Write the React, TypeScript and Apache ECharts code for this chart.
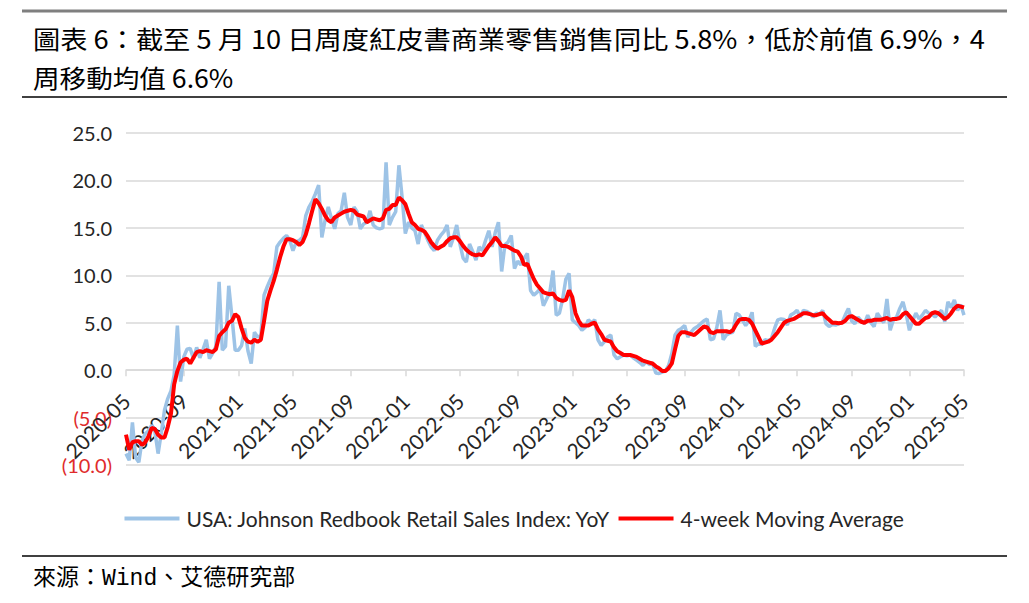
import React, { useEffect, useRef } from "react";
import * as echarts from "echarts";

// Weekly observations (Saturdays), first week ending 2020-05-09, last 2025-05-10
const startDate = "2020-05-09";
const weekCount = 262;

const redbookYoY = [
  -8.8, -9.5, -5.5, -9.2, -9.7, -7.4, -6.7, -6.4, -5.8, -6.5,
  -8.8, -6.6, -4.2, -3.0, -2.2, -0.5, 4.7, -1.2, 1.4, 2.2,
  2.3, 1.2, 2.4, 1.3, 2.2, 3.2, 1.2, 1.8, 2.5, 9.3,
  2.1, 2.5, 8.9, 5.6, 2.1, 2.1, 2.6, 4.4, 2.0, 0.7,
  4.0, 3.5, 3.6, 7.9, 8.8, 9.6, 10.2, 13.0, 13.5, 13.9,
  14.2, 13.7, 12.6, 13.5, 13.7, 14.0, 16.3, 17.2, 17.8, 18.6,
  19.5, 14.0, 15.8, 17.2, 16.0, 14.9, 16.5, 16.8, 18.7, 16.1,
  15.3, 17.2, 16.7, 14.9, 15.4, 15.6, 16.8, 15.3, 15.0, 14.9,
  15.0, 21.9, 15.3, 16.1, 16.7, 21.6, 18.2, 14.4, 15.6, 15.0,
  14.7, 13.3, 15.3, 14.5, 13.7, 13.0, 12.6, 13.7, 14.2, 14.6,
  15.3, 13.0, 14.0, 15.3, 13.3, 11.8, 11.4, 13.3, 12.5, 11.6,
  13.0, 12.6, 13.7, 14.7, 13.0, 14.5, 15.6, 10.4, 13.2, 13.5,
  14.2, 10.7, 11.5, 11.1, 11.8, 12.3, 8.4, 7.9, 8.2, 8.6,
  6.8, 7.5, 8.2, 10.5, 5.8, 6.0, 7.5, 9.6, 10.2, 5.3,
  5.0, 4.7, 4.2, 4.5, 5.3, 5.0, 5.3, 3.2, 2.6, 3.0,
  3.5, 3.7, 1.6, 1.2, 1.4, 1.6, 1.5, 1.6, 1.3, 1.05,
  0.8, 0.5, 0.9, 0.6, 0.7, -0.3, -0.35, -0.2, -0.1, 0.5,
  1.75, 3.7, 4.2, 4.4, 4.7, 3.5, 4.0, 4.4, 4.6, 4.9,
  5.2, 5.4, 3.2, 3.3, 4.5, 6.3, 3.2, 3.7, 3.9, 4.0,
  6.0, 5.8, 5.3, 4.7, 5.2, 6.1, 2.5, 2.8, 2.7, 3.2,
  3.1, 3.3, 4.4, 5.3, 5.4, 5.35, 4.75, 5.8, 6.0, 6.3,
  5.6, 6.3, 6.2, 6.0, 5.6, 6.0, 5.9, 6.3, 4.9, 4.6,
  4.8, 4.75, 4.9, 5.0, 5.8, 6.5, 5.2, 4.9, 5.6, 5.2,
  4.9, 5.8, 5.0, 4.6, 6.0, 5.5, 5.0, 7.5, 4.2, 5.3,
  5.6, 6.5, 7.2, 5.9, 4.2, 5.2, 6.0, 5.4, 5.8, 6.3,
  6.0, 5.9, 5.6, 6.0, 6.3, 5.1, 7.2, 6.6, 7.4, 6.3,
  6.9, 5.8,
];

const movingAvg4w = [
  -6.8, -8.4, -7.6, -7.5, -7.5, -7.9, -7.6, -7.0, -6.1, -6.2,
  -6.8, -7.1, -7.1, -6.0, -4.6, -1.5, -0.1, 0.8, 1.1, 1.2,
  0.7, 1.3, 1.9, 2.0, 1.9, 2.1, 2.0, 1.9, 2.2, 3.6,
  4.0, 4.3, 5.0, 5.2, 5.9, 5.6, 4.4, 3.4, 3.0, 2.9,
  3.2, 3.0, 3.2, 5.2, 7.3, 8.4, 9.4, 10.6, 11.9, 13.0,
  13.8, 13.8, 13.7, 13.5, 13.2, 13.5, 14.3, 15.5, 16.8, 18.0,
  17.6, 17.0, 16.3, 15.8, 15.6, 16.1, 16.3, 16.5, 16.7, 16.8,
  16.9, 16.8, 16.4, 16.3, 16.2, 15.6, 15.8, 16.0, 15.9, 15.8,
  16.0, 16.9, 17.0, 17.4, 17.4, 18.2, 17.9, 17.5, 16.5, 15.6,
  15.3, 14.9, 14.8, 14.6, 14.1, 13.5, 13.1, 12.8, 13.0, 13.2,
  13.6, 13.9, 14.0, 14.0, 13.6, 13.1, 12.7, 12.4, 12.2, 12.1,
  12.2, 12.1, 12.6, 13.1, 13.5, 14.0, 13.6, 13.1, 13.1, 13.0,
  12.8, 12.6, 12.5, 12.0, 11.1, 11.2, 10.4, 9.6, 9.0, 8.6,
  8.2, 8.1, 8.0, 8.1, 7.6, 7.4, 7.3, 7.4, 8.4, 7.7,
  6.0, 5.2, 4.7, 4.7, 4.7, 4.9, 5.0, 4.3, 3.8, 3.2,
  3.1, 3.0, 2.4, 2.0, 1.8, 1.6, 1.6, 1.6, 1.5, 1.4,
  1.2, 1.0, 0.9, 0.8, 0.7, 0.4, 0.2, -0.1, -0.1, 0.2,
  0.7, 2.2, 3.6, 4.0, 4.0, 3.9, 3.8, 3.7, 4.0, 4.3,
  4.6, 4.5, 4.0, 3.9, 4.1, 4.1, 4.1, 4.1, 4.0, 4.2,
  4.8, 5.3, 5.4, 5.4, 5.3, 4.9, 4.2, 3.5, 2.8, 2.9,
  3.0, 3.2, 3.6, 4.0, 4.5, 5.0, 5.2, 5.3, 5.4, 5.6,
  5.8, 6.0, 6.0, 5.9, 5.8, 5.8, 5.9, 6.0, 5.6, 5.3,
  5.0, 5.0, 4.95, 5.0, 5.2, 5.6, 5.7, 5.5, 5.3, 5.1,
  5.0, 5.2, 5.2, 5.3, 5.3, 5.3, 5.4, 5.5, 5.3, 5.4,
  5.4, 5.5, 5.9, 6.1, 5.7, 5.3, 4.9, 4.9, 5.2, 5.5,
  5.6, 6.0, 6.1, 6.0, 5.7, 5.4, 5.6, 6.0, 6.5, 6.8,
  6.7, 6.6,
];

const tickLabels = [
  "2020-05", "2020-09", "2021-01", "2021-05", "2021-09", "2022-01", "2022-05", "2022-09",
  "2023-01", "2023-05", "2023-09", "2024-01", "2024-05", "2024-09", "2025-01", "2025-05",
];

const yMin = -10;
const yMax = 25;
const yStep = 5;

const seriesNames = ["USA: Johnson Redbook Retail Sales Index: YoY", "4-week Moving Average"];
const titleLine1 = "圖表 6：截至 5 月 10 日周度紅皮書商業零售銷售同比 5.8%，低於前值 6.9%，4";
const titleLine2 = "周移動均值 6.6%";
const sourceText = "來源：Wind、艾德研究部";

const DAY = 86400000;

function buildDates(): string[] {
  const [y, m, d] = startDate.split("-").map(Number);
  const t0 = Date.UTC(y, m - 1, d);
  const out: string[] = [];
  for (let i = 0; i < weekCount; i++) {
    out.push(new Date(t0 + i * 7 * DAY).toISOString().slice(0, 10));
  }
  return out;
}

export default function App() {
  const ref = useRef<HTMLDivElement>(null);

  useEffect(() => {
    if (!ref.current) return;
    const chart = echarts.init(ref.current, null, { renderer: "svg" });
    const dates = buildDates();
    const times = dates.map((s) => Date.parse(s + "T00:00:00Z"));
    const labelAt = new Map<number, string>();
    tickLabels.forEach((lab) => {
      const [yy, mm] = lab.split("-").map(Number);
      const target = Date.UTC(yy, mm - 1, 9);
      let best = 0;
      let bd = Infinity;
      times.forEach((t, i) => {
        const dd = Math.abs(t - target);
        if (dd < bd) {
          bd = dd;
          best = i;
        }
      });
      labelAt.set(best, lab);
    });
    const isTick = (i: number) => labelAt.has(i);
    const font = "Lato, 'Liberation Sans', sans-serif";
    const cjkFont = "'Noto Sans CJK TC', 'Noto Sans CJK SC', sans-serif";
    const srcFont = "'Liberation Mono', 'Noto Sans CJK TC', monospace";

    const gridTop = 133;
    const gridBottom = 138;
    const gridH = 603 - gridTop - gridBottom;
    // move the category axis (line, ticks and labels) up to the zero line
    const zeroOffset = -gridH * (0 - yMin) / (yMax - yMin);

    chart.setOption({
      animation: false,
      backgroundColor: "#ffffff",
      grid: { left: 126, right: 65, top: gridTop, bottom: gridBottom, containLabel: false },
      xAxis: {
        type: "category",
        data: dates,
        boundaryGap: false,
        offset: zeroOffset,
        axisLine: { onZero: false, lineStyle: { color: "#d9d9d9", width: 1.5 } },
        axisTick: { show: true, interval: isTick, length: 6, lineStyle: { color: "#d9d9d9", width: 1.5 } },
        axisLabel: {
          interval: isTick,
          rotate: 45,
          margin: 27,
          formatter: (_v: string, i: number) => labelAt.get(i) ?? "",
          fontFamily: font,
          fontSize: 21,
          color: "#262626",
        },
        splitLine: { show: false },
      },
      yAxis: {
        type: "value",
        min: yMin,
        max: yMax,
        interval: yStep,
        axisLine: { show: false },
        axisTick: { show: false },
        splitLine: { lineStyle: { color: "#d9d9d9", width: 1.5 } },
        axisLabel: {
          margin: 14,
          formatter: (v: number) => (v < 0 ? `{neg|(${(-v).toFixed(1)})}` : `{pos|${v.toFixed(1)}}`),
          rich: {
            neg: { color: "#e02b2b", fontFamily: font, fontSize: 20 },
            pos: { color: "#262626", fontFamily: font, fontSize: 20 },
          },
        },
      },
      legend: {
        top: 503,
        left: "center",
        icon: "rect",
        itemWidth: 55,
        itemHeight: 4,
        itemGap: 8,
        textStyle: { fontFamily: font, fontSize: 21, color: "#262626", padding: [0, 0, 0, 2] },
        data: seriesNames,
      },
      series: [
        {
          name: seriesNames[0],
          type: "line",
          data: redbookYoY,
          symbol: "none",
          showSymbol: false,
          lineStyle: { color: "#9dc3e6", width: 3.5 },
          itemStyle: { color: "#9dc3e6" },
          z: 2,
        },
        {
          name: seriesNames[1],
          type: "line",
          data: movingAvg4w,
          symbol: "none",
          showSymbol: false,
          lineStyle: { color: "#ff0000", width: 4 },
          itemStyle: { color: "#ff0000" },
          z: 3,
        },
      ],
      graphic: [
        { type: "line", shape: { x1: 22, y1: 11, x2: 1007, y2: 11 }, style: { stroke: "#7f7f7f", lineWidth: 3 } },
        {
          type: "text",
          x: 33,
          y: 38,
          scaleX: 1.09,
          style: { text: titleLine1, x: 0, y: 0, verticalAlign: "middle", fill: "#000", fontFamily: cjkFont, fontSize: 25 },
        },
        {
          type: "text",
          x: 33,
          y: 77,
          scaleX: 1.064,
          style: { text: titleLine2, x: 0, y: 0, verticalAlign: "middle", fill: "#000", fontFamily: cjkFont, fontSize: 25 },
        },
        { type: "line", shape: { x1: 22, y1: 97, x2: 1007, y2: 97 }, style: { stroke: "#000", lineWidth: 1.5 } },
        { type: "line", shape: { x1: 22, y1: 556, x2: 1007, y2: 556 }, style: { stroke: "#000", lineWidth: 1.5 } },
        {
          type: "text",
          style: {
            text: sourceText,
            x: 33,
            y: 579,
            verticalAlign: "middle",
            fill: "#000",
            fontFamily: srcFont,
            fontSize: 23,
          },
        },
      ],
    });
    return () => chart.dispose();
  }, []);

  return (
    <div
      ref={ref}
      style={{ position: "fixed", left: 0, top: 0, width: 1029, height: 603, background: "#fff" }}
    />
  );
}
